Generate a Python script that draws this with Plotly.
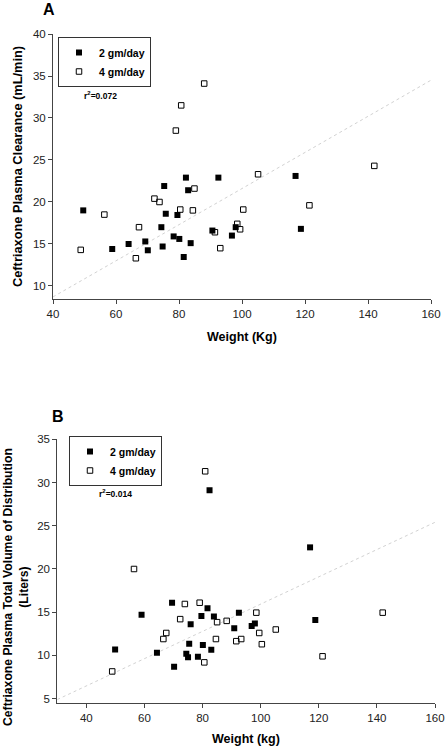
import plotly.graph_objects as go

# ---------------- data ----------------
# Panel A: Clearance (mL/min) vs weight (kg)
a_2g_weight = [49.6, 58.8, 64.0, 69.3, 70.1, 74.4, 74.8, 75.3, 75.8, 78.3, 79.5,
               80.1, 81.5, 82.2, 82.9, 83.7, 90.6, 92.5, 96.8, 98.0, 117.0, 118.7]
a_2g_clear = [19.0, 14.4, 15.0, 15.3, 14.25, 17.0, 14.7, 21.9, 18.6, 15.9, 18.45,
              15.6, 13.45, 22.9, 21.4, 15.1, 16.6, 22.9, 16.0, 17.0, 23.1, 16.8]
a_4g_weight = [48.8, 56.3, 66.3, 67.3, 72.2, 73.8, 79.0, 80.4, 80.7, 84.4,
               84.9, 88.0, 91.4, 93.1, 98.5, 99.4, 100.4, 105.1, 121.4, 142.0]
a_4g_clear = [14.3, 18.5, 13.3, 17.0, 20.4, 20.0, 28.5, 19.1, 31.5, 19.0,
              21.6, 34.1, 16.4, 14.5, 17.4, 16.75, 19.1, 23.3, 19.6, 24.3]
a_trend_x = [40, 160]
a_trend_y = [8.7, 34.5]
a_r2 = "r<sup>2</sup>=0.072"

# Panel B: Total volume of distribution (L) vs weight (kg)
b_2g_weight = [49.9, 59.0, 64.3, 69.5, 70.2, 74.4, 75.0, 75.4, 75.9, 78.4, 79.6,
               80.1, 81.7, 82.4, 83.0, 83.9, 90.9, 92.5, 96.9, 98.0, 117.0, 118.8]
b_2g_vol = [10.7, 14.7, 10.3, 16.1, 8.7, 10.2, 9.8, 11.35, 13.6, 9.85, 14.55,
            11.2, 15.45, 29.1, 10.65, 14.5, 13.15, 14.95, 13.4, 13.7, 22.5, 14.1]
b_4g_weight = [48.9, 56.4, 66.5, 67.5, 72.3, 73.9, 79.0, 80.6, 80.9, 84.6,
               85.0, 88.3, 91.6, 93.3, 98.5, 99.5, 100.4, 105.2, 121.3, 142.0]
b_4g_vol = [8.15, 20.0, 11.9, 12.6, 14.2, 15.95, 16.1, 9.2, 31.3, 11.9,
            13.85, 14.0, 11.65, 11.9, 14.95, 12.6, 11.3, 13.0, 9.9, 14.95]
b_trend_x = [30, 160]
b_trend_y = [4.9, 25.4]
b_r2 = "r<sup>2</sup>=0.014"

series_names = ["2 gm/day", "4 gm/day"]
a_xticks = [40, 60, 80, 100, 120, 140, 160]
a_yticks = [10, 15, 20, 25, 30, 35, 40]
b_xticks = [40, 60, 80, 100, 120, 140, 160]
b_yticks = [5, 10, 15, 20, 25, 30, 35]

# ---------------- figure ----------------
W, H = 446, 750
FONT = "Liberation Sans, Arial, sans-serif"


def px(x):
    return x / W


def py(y):
    return 1 - y / H


fig = go.Figure()

filled = dict(symbol="square", size=6, color="black", line=dict(width=0))
opened = dict(symbol="square-open", size=5.5, color="black", line=dict(width=1))
trend = dict(color="#d2d2d2", width=1, dash="dot")

# Panel A
fig.add_trace(go.Scatter(x=a_trend_x, y=a_trend_y, mode="lines", line=trend,
                         showlegend=False, xaxis="x", yaxis="y", hoverinfo="skip"))
fig.add_trace(go.Scatter(x=a_2g_weight, y=a_2g_clear, mode="markers", marker=filled,
                         name=series_names[0], xaxis="x", yaxis="y", legend="legend"))
fig.add_trace(go.Scatter(x=a_4g_weight, y=a_4g_clear, mode="markers", marker=opened,
                         name=series_names[1], xaxis="x", yaxis="y", legend="legend"))
# Panel B
fig.add_trace(go.Scatter(x=b_trend_x, y=b_trend_y, mode="lines", line=trend,
                         showlegend=False, xaxis="x2", yaxis="y2", hoverinfo="skip"))
fig.add_trace(go.Scatter(x=b_2g_weight, y=b_2g_vol, mode="markers", marker=filled,
                         name=series_names[0], xaxis="x2", yaxis="y2", legend="legend2"))
fig.add_trace(go.Scatter(x=b_4g_weight, y=b_4g_vol, mode="markers", marker=opened,
                         name=series_names[1], xaxis="x2", yaxis="y2", legend="legend2"))

axis_common = dict(showline=True, linecolor="#444", linewidth=1, ticks="outside",
                   ticklen=4, tickcolor="#444", showgrid=False, zeroline=False,
                   automargin=False,
                   tickfont=dict(family=FONT, size=11.5, color="#222"))

legend_common = dict(bgcolor="white", bordercolor="#333", borderwidth=1,
                     font=dict(family=FONT, size=10.5, color="black", weight="bold"),
                     xanchor="left", yanchor="top", traceorder="normal",
                     itemwidth=30)

fig.update_layout(
    template="none",
    width=W, height=H,
    margin=dict(l=0, r=0, t=0, b=0, pad=0, autoexpand=False),
    paper_bgcolor="white", plot_bgcolor="white",
    font=dict(family=FONT, color="black"),
    hovermode=False,
    xaxis=dict(domain=[px(53), px(431)], range=[40, 160], tickvals=a_xticks,
               anchor="y", **axis_common),
    yaxis=dict(domain=[py(299), py(34)], range=[8.45, 40], tickvals=a_yticks,
               anchor="x", **axis_common),
    xaxis2=dict(domain=[px(57.3), px(435)], range=[30, 160], tickvals=b_xticks,
                anchor="y2", **axis_common),
    yaxis2=dict(domain=[py(703), py(439.3)], range=[4.5, 35], tickvals=b_yticks,
                anchor="x2", **axis_common),
    legend=dict(x=px(58), y=py(37), **legend_common),
    legend2=dict(x=px(69), y=py(436), **legend_common),
)

bold = dict(family=FONT, color="black", weight="bold")
ann = [
    dict(text="A", x=px(49), y=py(10), font=dict(size=16, **bold)),
    dict(text="B", x=px(57.5), y=py(416), font=dict(size=16, **bold)),
    dict(text=a_r2, x=px(100.5), y=py(95), font=dict(size=8.5, **bold)),
    dict(text=b_r2, x=px(116), y=py(493), font=dict(size=8.5, **bold)),
    dict(text="Weight (Kg)", x=px(242), y=py(337), font=dict(size=12.5, **bold)),
    dict(text="Weight (kg)", x=px(246), y=py(739), font=dict(size=12.5, **bold)),
    dict(text="Ceftriaxone Plasma Clearance (mL/min)", x=px(17), y=py(167),
         textangle=-90, font=dict(size=12.8, **bold)),
    dict(text="Ceftriaxone Plasma Total Volume of Distribution<br>(Liters)",
         x=px(16), y=py(587), textangle=-90, font=dict(size=12.2, **bold)),
]
for a in ann:
    a.update(xref="paper", yref="paper", showarrow=False,
             xanchor="center", yanchor="middle")
fig.update_layout(annotations=ann)

fig.write_html(
    "out.html",
    config={"displayModeBar": False},
    post_script="document.body.style.margin='0';document.body.style.overflow='hidden';",
)
